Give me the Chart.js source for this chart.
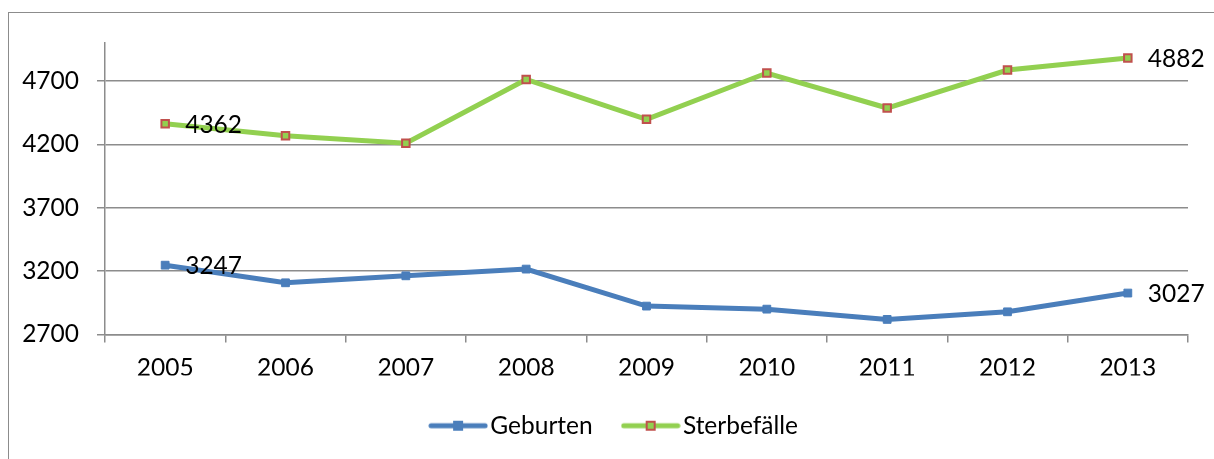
<!DOCTYPE html>
<html>
<head>
<meta charset="utf-8">
<script src="https://cdn.jsdelivr.net/npm/chart.js@4.4.1/dist/chart.umd.min.js"></script>
<style>
  body { margin: 0; background: #fff; }
  #wrap { position: relative; width: 1214px; height: 459px; overflow: hidden; }
  #frame { position: absolute; left: 8px; top: 12px; width: 1300px; height: 500px;
           border-left: 1px solid #8c8c8c; border-top: 1px solid #8c8c8c; }
  canvas { position: absolute; left: 0; top: 0; }
</style>
</head>
<body>
<div id="wrap">
  <div id="frame"></div>
  <canvas id="chart" width="1214" height="459"></canvas>
</div>
<script>
var years = ["2005", "2006", "2007", "2008", "2009", "2010", "2011", "2012", "2013"];
var geburten = [3247, 3108, 3163, 3216, 2924, 2900, 2819, 2879, 3027];
var sterbefaelle = [4362, 4269, 4209, 4712, 4398, 4763, 4487, 4787, 4882];
var yTicks = [2700, 3200, 3700, 4200, 4700];

var font = { family: "Lato", size: 24.5 };
var gridColor = "#8c8c8c";

function legendIcon(line, fill, border) {
	var c = document.createElement("canvas");
	c.width = 60; c.height = 14;
	var g = c.getContext("2d");
	g.strokeStyle = line; g.lineWidth = 5; g.lineCap = "round";
	g.beginPath(); g.moveTo(3, 7); g.lineTo(57, 7); g.stroke();
	g.fillStyle = fill; g.fillRect(26, 3, 8, 8);
	g.strokeStyle = border; g.lineWidth = 2; g.strokeRect(26, 3, 8, 8);
	return c;
}

var icons = [
	legendIcon("#4A7EBB", "#4A7EBB", "#4A7EBB"),
	legendIcon("#92D050", "#92D050", "#C0504D")
];

// value labels only on first and last point
var endLabels = {
	id: "endLabels",
	afterDatasetsDraw: function (chart) {
		var ctx = chart.ctx;
		ctx.save();
		ctx.font = font.size + "px " + font.family;
		ctx.fillStyle = "#000";
		ctx.textAlign = "left";
		ctx.textBaseline = "middle";
		chart.data.datasets.forEach(function (ds, i) {
			var meta = chart.getDatasetMeta(i);
			[0, ds.data.length - 1].forEach(function (j) {
				var pt = meta.data[j];
				ctx.fillText(String(ds.data[j]), pt.x + 20, pt.y + 1);
			});
		});
		ctx.restore();
	}
};

// nudge the legend so it sits centred like the original
var legendShift = {
	id: "legendShift",
	afterLayout: function (chart) {
		chart.legend.left += 24;
		chart.legend.right += 24;
	}
};

var chart1 = new Chart(document.getElementById("chart"), {
	type: "line",
	data: {
		labels: years,
		datasets: [
			{
				label: "Geburten",
				data: geburten,
				borderColor: "#4A7EBB",
				backgroundColor: "#4A7EBB",
				borderWidth: 5,
				pointStyle: "rect",
				pointRadius: 5.5,
				pointBorderWidth: 1,
				pointBackgroundColor: "#4A7EBB",
				pointBorderColor: "#4A7EBB",
				tension: 0
			},
			{
				label: "Sterbefälle",
				data: sterbefaelle,
				borderColor: "#92D050",
				backgroundColor: "#92D050",
				borderWidth: 5,
				pointStyle: "rect",
				pointRadius: 5.3,
				pointBorderWidth: 2,
				pointBackgroundColor: "#92D050",
				pointBorderColor: "#C0504D",
				tension: 0
			}
		]
	},
	options: {
		responsive: false,
		animation: false,
		devicePixelRatio: 1,
		layout: { padding: { top: 43, right: 26, bottom: 11, left: 0 } },
		scales: {
			x: {
				offset: true,
				grid: { offset: true, drawOnChartArea: false, drawTicks: true, tickLength: 8, color: gridColor, lineWidth: 1.5 },
				border: { display: true, color: gridColor, width: 1.5 },
				ticks: { font: font, color: "#000", padding: 11, maxRotation: 0 },
				afterFit: function (scale) { scale.height = 41; }
			},
			y: {
				min: 2700,
				max: 5000,
				grid: { color: gridColor, lineWidth: 1.5, tickLength: 8 },
				border: { display: true, color: gridColor, width: 1.5 },
				ticks: {
					font: font, color: "#000", padding: 18,
					callback: function (v) { return String(v); }
				},
				afterBuildTicks: function (scale) {
					scale.ticks = yTicks.map(function (v) { return { value: v }; });
				},
				afterFit: function (scale) { scale.width = 105; }
			}
		},
		plugins: {
			tooltip: { enabled: false },
			legend: {
				position: "bottom",
				labels: {
					font: font,
					color: "#000",
					usePointStyle: true,
					pointStyleWidth: 40,
					padding: 38,
					generateLabels: function (chart) {
						var items = Chart.defaults.plugins.legend.labels.generateLabels(chart);
						items.forEach(function (it, i) { it.pointStyle = icons[i]; });
						return items;
					}
				}
			}
		}
	},
	plugins: [endLabels, legendShift]
});
</script>
</body>
</html>
